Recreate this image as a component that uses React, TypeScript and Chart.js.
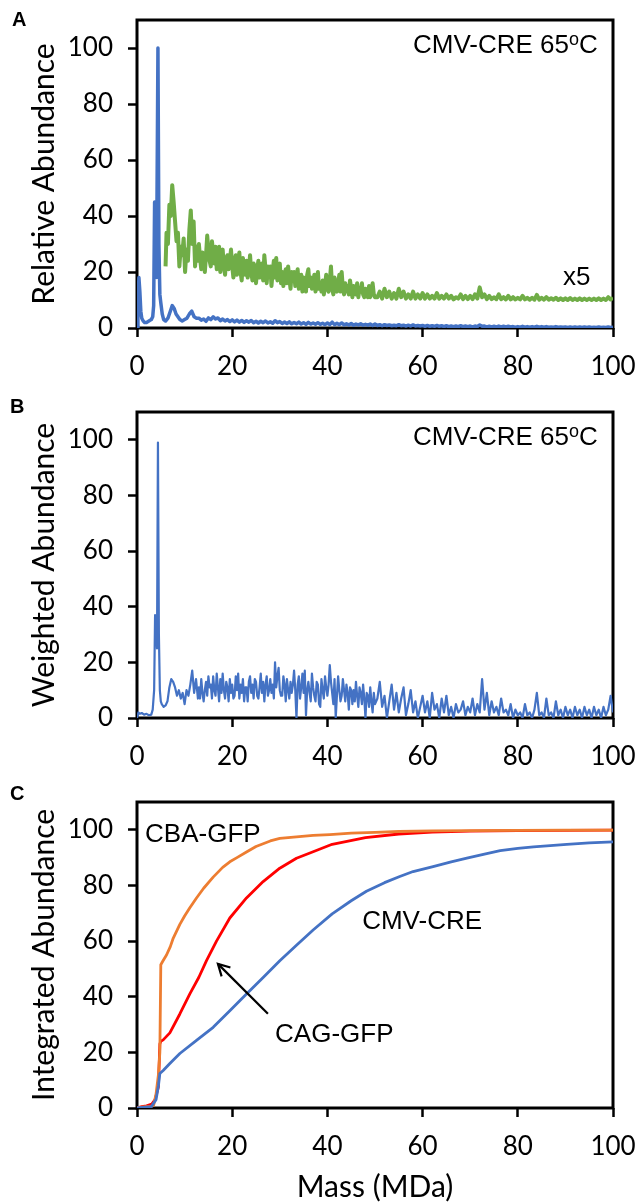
import React, { useEffect, useRef } from "react";
import { Chart, registerables } from "chart.js";

Chart.register(...registerables);

// ---------- ticks ----------
const xTickValues = [0, 20, 40, 60, 80, 100];
const yTickValues = [0, 20, 40, 60, 80, 100];

// sampling grids (MDa)
const midStart = 13;
const midStep = 0.25; // 13 .. 50
const tailStart = 50.5;
const tailStep = 0.5; // 50.5 .. 100
const relTailStart = 13;
const relTailStep = 0.5; // 13 .. 100

// ---------- Panel A : relative abundance ----------
const relHeadMass = [0, 0.2, 0.4, 0.6, 0.8, 1.0, 1.3, 1.6, 2.0, 2.5, 3.0, 3.3, 3.5, 3.7, 3.9, 4.1, 4.4, 4.6, 4.8, 5.0, 5.3, 5.6, 6.0, 6.5, 7.0, 7.4, 7.8, 8.2, 8.6, 9.0, 9.5, 10.0, 10.5, 11.0, 11.5, 12.0, 12.5];
const relHeadBlue = [0, 9, 18, 13, 6, 3.5, 2.5, 2, 2, 2.5, 3, 4, 8, 45, 44, 18, 100, 30, 12, 9, 5, 3, 2.5, 3.5, 6, 8, 7, 5, 4, 3, 2.5, 3, 3.5, 5, 6, 4, 3.5];
const relTailBlue = [
  3.5, 2.8, 3.2, 2.4, 3.6, 3.0, 4.0, 3.2, 3.6, 2.6,
  3.2, 2.5, 3.0, 2.3, 2.9, 2.2, 2.8, 2.1, 2.7, 2.0,
  2.6, 2.1, 2.7, 1.9, 2.4, 1.8, 2.4, 1.9, 2.5, 1.8,
  2.2, 1.7, 2.6, 1.9, 2.3, 1.6, 2.1, 1.6, 2.2, 1.5,
  2.0, 1.5, 2.1, 1.4, 1.9, 1.3, 2.0, 1.4, 1.8, 1.3,
  1.9, 1.3, 1.7, 1.2, 1.8, 1.2, 2.1, 1.2, 1.7, 1.2,
  1.8, 1.1, 1.5, 1.1, 1.6, 1.0, 1.4, 1.1, 1.5, 1.0,
  1.3, 1.0, 1.4, 0.9, 1.4, 0.9, 1.2, 0.8, 1.2, 0.9,
  1.1, 0.8, 1.0, 0.8, 1.2, 0.8, 1.0, 0.7, 1.0, 0.7,
  1.1, 0.7, 0.9, 0.7, 0.9, 0.6, 0.9, 0.6, 0.8, 0.6,
  0.9, 0.6, 0.8, 0.5, 0.8, 0.5, 0.7, 0.5, 0.7, 0.5,
  0.8, 0.5, 0.7, 0.5, 0.7, 0.4, 0.7, 0.5, 1.1, 0.6,
  0.7, 0.4, 0.6, 0.4, 0.6, 0.4, 0.7, 0.4, 0.6, 0.4,
  0.6, 0.4, 0.5, 0.3, 0.5, 0.3, 0.6, 0.3, 0.5, 0.3,
  0.5, 0.3, 0.6, 0.3, 0.5, 0.3, 0.5, 0.3, 0.4, 0.3,
  0.5, 0.3, 0.4, 0.3, 0.4, 0.2, 0.4, 0.2, 0.4, 0.2,
  0.4, 0.2, 0.4, 0.2, 0.4, 0.2, 0.3, 0.2, 0.4, 0.2,
  0.3, 0.2, 0.4, 0.2, 0.3,
];
const x5HeadMass = [6.0, 6.2, 6.5, 6.8, 7.1, 7.4, 7.7, 8.0, 8.3, 8.6, 8.9, 9.2, 9.5, 9.8, 10.1, 10.4, 10.7, 11.0, 11.3, 11.6, 11.9, 12.2, 12.5, 12.8];
const x5HeadGreen = [22, 34, 30, 44, 40, 51, 45, 38, 31, 34, 22, 29, 26, 32, 20, 28, 24, 35, 42, 30, 38, 22, 29, 24];
const x5MidGreen = [
  30, 25, 21, 27, 24, 20, 26, 33, 28, 24,
  22, 31, 27, 23, 29, 21, 25, 29, 20, 26,
  28, 22, 19, 25, 26, 21, 24, 28, 22, 18,
  24, 26, 19, 23, 27, 20, 17, 25, 22, 19,
  24, 18, 21, 26, 20, 17, 23, 22, 16, 21,
  24, 18, 20, 23, 17, 26, 21, 16, 22, 19,
  22, 15, 20, 24, 18, 25, 17, 21, 23, 16,
  20, 15, 19, 21, 16, 22, 18, 14, 20, 17,
  20, 15, 18, 21, 14, 17, 19, 13, 18, 16,
  13, 19, 21, 15, 18, 14, 16, 19, 13, 17,
  20, 14, 16, 13, 17, 12, 15, 19, 14, 13,
  17, 22, 14, 12, 18, 15, 13, 16, 19, 13,
  20, 14, 12, 16, 13, 15, 12, 17, 14, 11,
  15, 13, 12, 16, 11, 14, 13, 16, 12, 11,
  14, 12, 11, 15, 11, 13, 16, 12, 11,
];
const x5TailGreen = [
  11, 13, 10.5, 14, 11,
  13, 10.5, 12.5, 10.5, 14, 11, 13, 10.5, 12, 10.5,
  13, 10.5, 12, 10.5, 12.5, 10.5, 12, 10.5, 11.5, 10.5,
  12.5, 10.5, 11.5, 10.5, 12, 10.5, 11.5, 10.2, 11, 10.5,
  12, 10.3, 11.5, 10.3, 11.5, 10.3, 12, 10.5, 14.5, 11,
  12, 10.3, 11.5, 10.3, 11, 10.3, 12, 10.3, 11, 10.2,
  11.5, 10.2, 11, 10.2, 10.8, 10.2, 11.5, 10.2, 10.8, 10.1,
  10.8, 10.1, 11.8, 10.1, 10.8, 10.1, 11, 10.1, 10.6, 10.1,
  10.8, 10, 10.6, 10, 10.6, 10, 10.7, 10, 10.5, 10,
  10.6, 10, 10.5, 10, 10.5, 10, 10.5, 10, 10.6, 10,
  10.5, 10, 11, 10.2, 10.8,
];

// ---------- Panel B : weighted abundance ----------
const wHeadMass = [0, 0.3, 0.6, 1.0, 1.5, 2.0, 2.5, 3.0, 3.3, 3.6, 3.8, 4.0, 4.2, 4.4, 4.6, 4.8, 5.0, 5.2, 5.6, 6.0, 6.4, 6.8, 7.2, 7.6, 8.0, 8.4, 8.8, 9.2, 9.6, 10.0, 10.4, 10.8, 11.2, 11.6, 12.0, 12.4, 12.8];
const wHeadBlue = [0, 2, 1.5, 1.8, 1.2, 1.5, 1, 1.2, 3, 10, 37, 36, 25, 99, 30, 10, 6, 5, 4, 4.5, 6, 11, 14, 13, 11, 8, 10, 7, 9, 5, 10, 8, 12, 17, 9, 14, 7];
const wMidBlue = [
  11, 7, 14, 9, 6, 10, 13, 8, 15, 11,
  12, 7, 15, 10, 8, 16, 11, 6, 14, 9,
  16, 10, 7, 13, 11, 6, 14, 9, 12, 7,
  8, 15, 10, 16, 7, 12, 9, 14, 6, 11,
  11, 6, 13, 15, 9, 12, 7, 14, 13, 8,
  7, 11, 16, 9, 13, 6, 12, 15, 8, 10,
  14, 9, 12, 7, 20, 11, 15, 18, 10, 8,
  8, 15, 12, 6, 14, 10, 7, 13, 9, 12,
  17, 10, 0, 12, 15, 7, 11, 16, 9, 17,
  1, 10, 13, 9, 6, 16, 11, 8, 6, 13,
  12, 5, 4, 14, 10, 7, 15, 11, 8, 12,
  19, 13, 9, 5, 14, 0, 8, 15, 10, 6,
  8, 14, 10, 6, 12, 9, 3, 11, 10, 5,
  10, 6, 13, 8, 4, 11, 9, 5, 12, 7,
  0, 9, 8, 4, 11, 6, 2, 9, 5,
];
const wTailBlue = [
  7, 13, 4, 8, 0,
  6, 12, 3, 9, 2, 7, 11, 1, 5, 10,
  2, 6, 0, 4, 8, 2, 6, 0, 9, 3,
  5, 0, 7, 2, 8, 1, 4, 0, 5, 2,
  3, 6, 1, 4, 2, 7, 1, 5, 2, 14,
  3, 9, 1, 6, 2, 4, 1, 7, 2, 3,
  1, 5, 0, 3, 1, 2, 0, 5, 1, 2,
  0, 3, 9, 1, 2, 0, 7, 1, 2, 0,
  6, 1, 3, 0, 4, 1, 3, 0, 4, 1,
  3, 0, 4, 1, 3, 0, 4, 1, 3, 0,
  4, 1, 3, 8, 2,
];

// ---------- Panel C : integrated abundance ----------
const cbaMass = [0, 1, 2, 3, 3.5, 4, 4.5, 4.8, 5.0, 5.5, 6.2, 7.0, 7.6, 9.0, 10, 11.1, 12.5, 14, 16, 18, 19.5, 21, 23, 25, 26.5, 28, 30, 33.5, 37, 40.5, 45, 50, 55, 62, 70, 80, 90, 100];
const cbaVals = [0, 0.3, 0.5, 0.5, 1, 5, 12, 20, 51.5, 53, 55, 58, 61, 66, 69, 72, 75.5, 79, 83, 86.5, 88.5, 90, 92, 94, 95, 96, 96.9, 97.5, 98, 98.3, 98.8, 99.1, 99.4, 99.6, 99.7, 99.8, 99.9, 99.9];
const cagMass = [0, 1, 2, 3.1, 3.8, 4.5, 4.8, 5.0, 5.5, 6.9, 9.0, 11.1, 13, 14.6, 16.7, 19.5, 23, 26.5, 30, 33.5, 37, 41, 48, 55, 62, 70, 80, 90, 100];
const cagVals = [0, 0.5, 0.8, 1.4, 3, 7.6, 23, 24, 24.5, 27, 33.8, 41, 47, 53, 60, 68.3, 75.5, 81.4, 86.2, 89.8, 92.1, 94.8, 97.2, 98.5, 99.2, 99.5, 99.7, 99.8, 99.9];
const cmvMass = [0, 3, 4.0, 4.5, 4.8, 5.5, 6.9, 9, 12.5, 16, 19.5, 23, 26.5, 30, 33.5, 37, 41, 45, 48.2, 52, 55.2, 58, 62.2, 66, 69.3, 73, 76.3, 80, 83.3, 90.3, 95, 100];
const cmvVals = [0, 0.5, 3, 8, 12.4, 13.5, 16, 19.6, 24.3, 29, 35, 41, 46.9, 52.9, 58.5, 64, 69.8, 74.5, 77.9, 81, 83.2, 85, 86.8, 88.5, 89.8, 91.3, 92.5, 93.3, 93.9, 94.8, 95.3, 95.7];

// ---------- text ----------
const tempLabelParts = ["CMV-CRE 65", "o", "C"];
const scaleLabel = "x5";
const cbaLabel = "CBA-GFP";
const cagLabel = "CAG-GFP";
const cmvLabel = "CMV-CRE";

const BLUE = "#4472C4";
const GREEN = "#70AD47";
const ORANGE = "#ED7D31";
const RED = "#FF0000";
const ARIAL = '"Liberation Sans", Arial, sans-serif';
const CAL = 'Lato, "Open Sans", sans-serif';

const pts = (xs: number[], ys: number[]) => xs.map((x, i) => ({ x, y: ys[i] }));
const gridPts = (start: number, step: number, ys: number[]) => ys.map((y, i) => ({ x: start + i * step, y }));

function drawTemp(ctx: CanvasRenderingContext2D, right: number, base: number) {
  const specs: [string, number, number][] = [
    [tempLabelParts[0], 26, 0],
    [tempLabelParts[1], 18, 8],
    [tempLabelParts[2], 26, 0],
  ];
  const widths = specs.map(([t, s]) => {
    ctx.font = `${s}px ${ARIAL}`;
    return ctx.measureText(t).width;
  });
  let x = right - widths.reduce((a, b) => a + b, 0);
  specs.forEach(([t, s, r], i) => {
    ctx.font = `${s}px ${ARIAL}`;
    ctx.textAlign = "left";
    ctx.textBaseline = "alphabetic";
    ctx.fillText(t, x, base - r);
    x += widths[i];
  });
}

function text(ctx: CanvasRenderingContext2D, t: string, x: number, y: number, font: string) {
  ctx.font = font;
  ctx.textAlign = "left";
  ctx.textBaseline = "alphabetic";
  ctx.fillText(t, x, y);
}

type PanelProps = {
  top: number;
  height: number;
  padTop: number;
  xAxisH: number;
  datasets: any[];
  yTitle: string;
  xTitle?: string;
  draw: (chart: any) => void;
};

function Panel({ top, height, padTop, xAxisH, datasets, yTitle, xTitle, draw }: PanelProps) {
  const ref = useRef<HTMLCanvasElement>(null);
  useEffect(() => {
    const chart = new Chart(ref.current as HTMLCanvasElement, {
      type: "line",
      data: { datasets },
      options: {
        responsive: false,
        animation: false,
        events: [],
        layout: { padding: { top: padTop, right: 25, bottom: 0, left: 0 } },
        plugins: { legend: { display: false }, tooltip: { enabled: false } },
        elements: { point: { radius: 0 }, line: { tension: 0, borderJoinStyle: "round" } },
        scales: {
          x: {
            type: "linear",
            min: 0,
            max: 100,
            afterBuildTicks: (s: any) => {
              s.ticks = xTickValues.map((v) => ({ value: v }));
            },
            afterFit: (s: any) => {
              s.height = xAxisH;
              s.paddingLeft = 0;
              s.paddingRight = 0;
            },
            grid: { drawOnChartArea: false, drawTicks: true, tickLength: 9, tickColor: "#000", tickWidth: 2.5 },
            border: { display: false },
            ticks: { color: "#000", font: { family: CAL, size: 26 }, padding: 14, maxRotation: 0, autoSkip: false },
            title: xTitle
              ? { display: true, text: xTitle, color: "#000", font: { family: CAL, size: 30, lineHeight: 1 }, padding: { top: 0, bottom: 0 } }
              : { display: false },
          },
          y: {
            type: "linear",
            min: 0,
            max: 110,
            afterBuildTicks: (s: any) => {
              s.ticks = yTickValues.map((v) => ({ value: v }));
            },
            afterFit: (s: any) => {
              s.width = 137;
              s.paddingTop = 0;
              s.paddingBottom = 0;
            },
            grid: { drawOnChartArea: false, drawTicks: true, tickLength: 9, tickColor: "#000", tickWidth: 2.5 },
            border: { display: false },
            ticks: { color: "#000", font: { family: CAL, size: 26 }, padding: 15, autoSkip: false },
            title: { display: true, text: yTitle, color: "#000", font: { family: CAL, size: 30, lineHeight: 1 }, padding: { top: 29, bottom: 0 } },
          },
        },
      },
      plugins: [
        {
          id: "frameAndNotes",
          beforeDatasetsDraw(c: any) {
            const { left, top: t, width, height: h } = c.chartArea;
            const ctx = c.ctx;
            ctx.save();
            ctx.strokeStyle = "#000";
            ctx.lineWidth = 3;
            ctx.strokeRect(left, t, width, h);
            ctx.restore();
          },
          afterDatasetsDraw(c: any) {
            const ctx = c.ctx;
            ctx.save();
            ctx.fillStyle = "#000";
            ctx.strokeStyle = "#000";
            draw(c);
            ctx.restore();
          },
        },
      ],
    } as any);
    return () => chart.destroy();
  }, []);
  return (
    <canvas
      ref={ref}
      width={638}
      height={height}
      style={{ position: "absolute", left: 0, top, width: 638, height, display: "block" }}
    />
  );
}

export default function App() {
  const dsA = [
    {
      data: [...pts(x5HeadMass, x5HeadGreen), ...gridPts(midStart, midStep, x5MidGreen), ...gridPts(tailStart, tailStep, x5TailGreen)],
      borderColor: GREEN,
      borderWidth: 4,
    },
    {
      data: [...pts(relHeadMass, relHeadBlue), ...gridPts(relTailStart, relTailStep, relTailBlue)],
      borderColor: BLUE,
      borderWidth: 3.5,
    },
  ];
  const dsB = [
    {
      data: [...pts(wHeadMass, wHeadBlue), ...gridPts(midStart, midStep, wMidBlue), ...gridPts(tailStart, tailStep, wTailBlue)],
      borderColor: BLUE,
      borderWidth: 2.2,
    },
  ];
  const dsC = [
    { data: pts(cmvMass, cmvVals), borderColor: BLUE, borderWidth: 2.8 },
    { data: pts(cbaMass, cbaVals), borderColor: ORANGE, borderWidth: 2.8 },
    { data: pts(cagMass, cagVals), borderColor: RED, borderWidth: 2.8 },
  ];

  const drawA = (c: any) => {
    const ctx = c.ctx;
    const X = (v: number) => c.scales.x.getPixelForValue(v);
    const Y = (v: number) => c.scales.y.getPixelForValue(v);
    drawTemp(ctx, X(96.8), Y(98.2));
    text(ctx, scaleLabel, X(89.5), Y(15.5), `26px ${ARIAL}`);
    text(ctx, "A", 12, 26, `bold 20px ${ARIAL}`);
  };
  const drawB = (c: any) => {
    const ctx = c.ctx;
    const X = (v: number) => c.scales.x.getPixelForValue(v);
    const Y = (v: number) => c.scales.y.getPixelForValue(v);
    drawTemp(ctx, X(96.8), Y(98.3));
    text(ctx, "B", 10, 23, `bold 20px ${ARIAL}`);
  };
  const drawC = (c: any) => {
    const ctx = c.ctx;
    const X = (v: number) => c.scales.x.getPixelForValue(v);
    const Y = (v: number) => c.scales.y.getPixelForValue(v);
    text(ctx, cbaLabel, X(1.7), Y(95.7), `26px ${ARIAL}`);
    text(ctx, cmvLabel, X(47.3), Y(64.3), `26px ${ARIAL}`);
    text(ctx, cagLabel, X(29), Y(23.6), `26px ${ARIAL}`);
    text(ctx, "C", 10, 20, `bold 20px ${ARIAL}`);
    const x1 = X(27.5), y1 = Y(33.9), x2 = X(17.0), y2 = Y(51.8);
    ctx.lineWidth = 2.2;
    ctx.beginPath();
    ctx.moveTo(x1, y1);
    ctx.lineTo(x2, y2);
    ctx.stroke();
    const ang = Math.atan2(y2 - y1, x2 - x1);
    const L = 13;
    ctx.beginPath();
    ctx.moveTo(x2 - L * Math.cos(ang - 0.5), y2 - L * Math.sin(ang - 0.5));
    ctx.lineTo(x2, y2);
    ctx.lineTo(x2 - L * Math.cos(ang + 0.5), y2 - L * Math.sin(ang + 0.5));
    ctx.stroke();
  };

  return (
    <div style={{ position: "absolute", left: 0, top: 0, width: 638, height: 1202, background: "#fff", overflow: "hidden" }}>
      <Panel top={0} height={390} padTop={20} xAxisH={62} datasets={dsA} yTitle="Relative Abundance" draw={drawA} />
      <Panel top={390} height={390} padTop={22} xAxisH={62} datasets={dsB} yTitle="Weighted Abundance" draw={drawB} />
      <Panel top={780} height={422} padTop={22} xAxisH={94} datasets={dsC} yTitle="Integrated Abundance" xTitle="Mass (MDa)" draw={drawC} />
    </div>
  );
}
